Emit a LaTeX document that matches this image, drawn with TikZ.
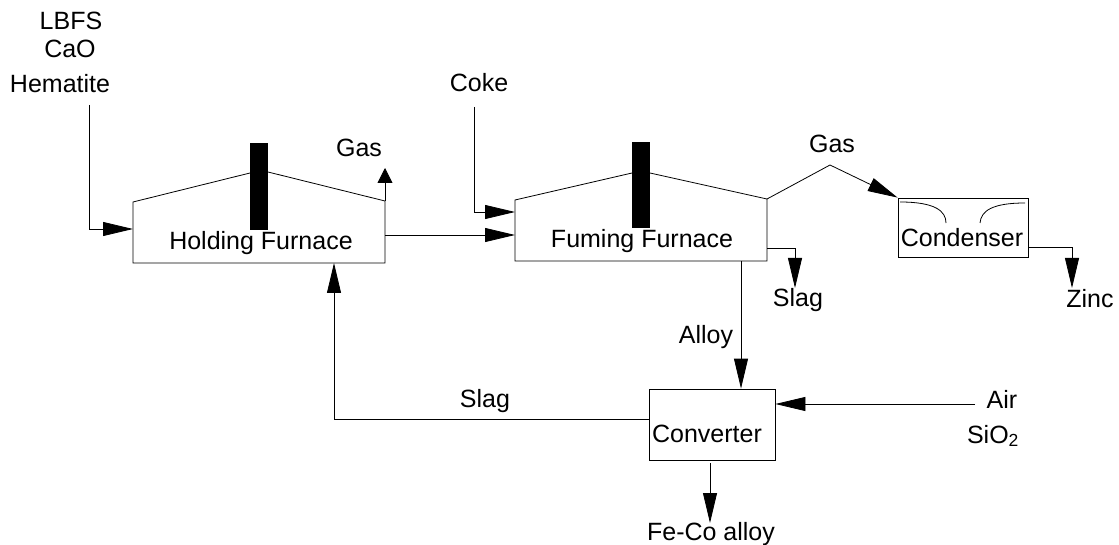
\documentclass[tikz,border=0pt]{standalone}
\usepackage{fontspec}
\setmainfont{Liberation Sans}
\usetikzlibrary{arrows.meta}
\tikzset{
  lbl/.style={inner sep=0pt, anchor=base, font=\fontsize{25}{30}\selectfont},
  ln/.style={line width=0.8pt, draw=black},
  arr/.style={ln, -{Triangle[length=30pt,width=14pt]}},
  sarr/.style={ln, -{Triangle[length=15pt,width=15pt]}},
  unit/.style={ln, rectangle, inner sep=0pt},
  chimney/.style={fill=black, draw=none},
}
\begin{document}
\begin{tikzpicture}[x=1pt,y=-1pt]
\useasboundingbox (0,0) rectangle (1119,545);
% labels
\node[lbl] (lbfs) at (71,30) {LBFS};
\node[lbl] (cao) at (70,58) {CaO};
\node[lbl] (hem) at (60,93) {Hematite};
\node[lbl] (coke) at (479,92) {Coke};
\node[lbl] (gas1) at (359,157) {Gas};
\node[lbl] (gas2) at (832,153) {Gas};
\node[lbl] (hft) at (261,250) {Holding Furnace};
\node[lbl] (fft) at (642,248) {Fuming Furnace};
\node[lbl] (slag1) at (798,307) {Slag};
\node[lbl] (zinc) at (1090,308) {Zinc};
\node[lbl] (alloy) at (706,343) {Alloy};
\node[lbl] (slag2) at (485,407) {Slag};
\node[lbl] (air) at (1002,408) {Air};
\node[lbl] (sio) at (993,443) {SiO\textsubscript{2}};
\node[lbl] (feco) at (711,540) {Fe-Co alloy};
% unit boxes
\node[unit, draw, minimum width=130pt, minimum height=59pt] (cond) at (963,227.5) {};
\node[lbl] (condt) at (962,247) {Condenser};
\node[unit, draw, minimum width=126pt, minimum height=71pt] (conv) at (712,424.5) {};
\node[lbl] (convt) at (707,442) {Converter};
% holding furnace
\coordinate (hfTL) at (133,202);
\coordinate (hfBL) at (133,263);
\coordinate (hfBR) at (385,263);
\coordinate (hfTR) at (385,201);
\coordinate (hfRL) at (250,173);
\coordinate (hfRR) at (268,172);
\draw[ln] (hfRL) -- (hfTL) -- (hfBL) -- (hfBR) -- (hfTR) -- (hfRR);
\fill[chimney] (250,143) rectangle (268,230);
% fuming furnace
\coordinate (ffTL) at (515,200);
\coordinate (ffBL) at (515,261);
\coordinate (ffBR) at (767,261);
\coordinate (ffTR) at (767,199);
\coordinate (ffRL) at (632,173);
\coordinate (ffRR) at (650,173);
\draw[ln] (ffRL) -- (ffTL) -- (ffBL) -- (ffBR) -- (ffTR) -- (ffRR);
\fill[chimney] (632,142) rectangle (650,228);
% condenser inner baffles
\draw[ln] (900,202) .. controls (935,202) and (946,211) .. (946,223);
\draw[ln] (980,223) .. controls (981,211) and (992,203) .. (1025,203);
% connectors
\coordinate (inTop) at (89,105);
\draw[arr] (inTop) |- (133,229);
\coordinate (cokeTop) at (474,107);
\draw[arr] (cokeTop) |- (515,212);
\draw[arr] (385,235) -- (515,235);
\coordinate (gasTip) at (385,168);
\draw[sarr] (hfTR) -- (gasTip);
\coordinate (gasPeak) at (830,165);
\draw[arr] (ffTR) -- (gasPeak) -- (cond.north west);
\coordinate (zincTip) at (1072,288);
\draw[arr] (cond.east |- 0,247) -| (zincTip);
\coordinate (slagTip) at (795,288);
\draw[arr] (767,248) -| (slagTip);
\draw[arr] (741,261) -- (conv.north -| 741,0);
\coordinate (airStart) at (975,404);
\draw[arr] (airStart) -- (conv.east |- airStart);
\coordinate (fecoTip) at (710,523);
\draw[arr] (710,463) -- (fecoTip);
\draw[arr] (conv.west |- 0,419) -| (hfBL -| 334,0);
\end{tikzpicture}
\end{document}
